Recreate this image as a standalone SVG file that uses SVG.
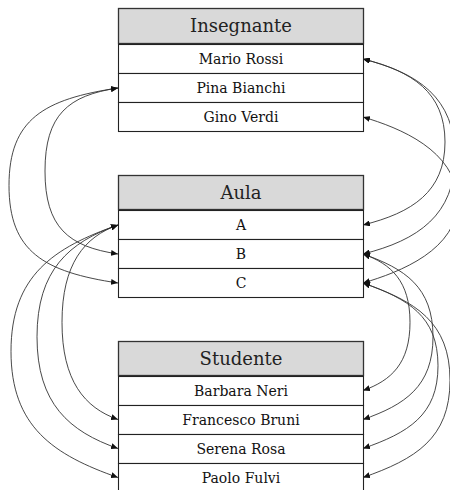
<svg xmlns="http://www.w3.org/2000/svg" width="450" height="490" viewBox="0 0 450 490">
<defs>
<marker id="ah" markerWidth="8" markerHeight="6" refX="7" refY="3" orient="auto-start-reverse" markerUnits="userSpaceOnUse">
<path d="M0,0 L7,3 L0,6 z" fill="#111"/>
</marker>
<style>
.hd{fill:#d9d9d9;stroke:#333;stroke-width:1.3}
.rw{fill:#fff;stroke:#222;stroke-width:1.1}
.ht{font-family:"DejaVu Serif","Liberation Serif",serif;font-size:18px;fill:#222;text-anchor:middle}
.rt{font-family:"DejaVu Serif","Liberation Serif",serif;font-size:14px;fill:#111;text-anchor:middle}
.cn path{fill:none;stroke:#333;stroke-width:0.9;marker-start:url(#ah);marker-end:url(#ah)}
</style>
</defs>
<rect width="450" height="490" fill="#fff"/>
<g id="insegnante">
<rect class="hd" x="118.5" y="8.5" width="245" height="35"/>
<rect class="rw" x="118.5" y="44.5" width="245" height="29"/>
<rect class="rw" x="118.5" y="73.5" width="245" height="29"/>
<rect class="rw" x="118.5" y="102.5" width="245" height="29"/>
<text class="ht" x="241" y="32">Insegnante</text>
<text class="rt" x="241" y="64">Mario Rossi</text>
<text class="rt" x="241" y="93">Pina Bianchi</text>
<text class="rt" x="241" y="122">Gino Verdi</text>
</g>
<g id="aula">
<rect class="hd" x="118.5" y="175.5" width="245" height="34"/>
<rect class="rw" x="118.5" y="210.5" width="245" height="29"/>
<rect class="rw" x="118.5" y="239.5" width="245" height="29"/>
<rect class="rw" x="118.5" y="268.5" width="245" height="29"/>
<text class="ht" x="241" y="198.5">Aula</text>
<text class="rt" x="241" y="230">A</text>
<text class="rt" x="241" y="259">B</text>
<text class="rt" x="241" y="288">C</text>
</g>
<g id="studente">
<rect class="hd" x="118.5" y="341.5" width="245" height="34"/>
<rect class="rw" x="118.5" y="376.5" width="245" height="29"/>
<rect class="rw" x="118.5" y="405.5" width="245" height="29"/>
<rect class="rw" x="118.5" y="434.5" width="245" height="29"/>
<rect class="rw" x="118.5" y="463.5" width="245" height="29"/>
<text class="ht" x="241" y="364.5">Studente</text>
<text class="rt" x="241" y="396">Barbara Neri</text>
<text class="rt" x="241" y="425">Francesco Bruni</text>
<text class="rt" x="241" y="454">Serena Rosa</text>
<text class="rt" x="241" y="483">Paolo Fulvi</text>
</g>
<g id="connectors" class="cn">
<path d="M118,88 C68.4,95.4 45,114.6 45,171 C45,227.4 68.4,246.6 118,254"/>
<path d="M118,88 C43.9,99.1 9,119.2 9,185.5 C9,251.8 43.9,271.9 118,283"/>
<path d="M118,225 C84.4,236.8 62,263.9 62,322.3 C62,380.6 84.4,407.7 118,419.5"/>
<path d="M118,225 C69.4,242 37,269.7 37,336.8 C37,403.8 69.4,431.5 118,448.5"/>
<path d="M118,225 C53.8,247.5 11,275.5 11,351.3 C11,427 53.8,455 118,477.5"/>
<path d="M363,59 C412.2,71.3 445,92.2 445,142 C445,191.8 412.2,212.7 363,225"/>
<path d="M363,59 C418.2,72.8 455,98 455,156.5 C455,215 418.2,240.2 363,254"/>
<path d="M363,117 C400,128 455,150 458,200 C458,250 400,272 363,283"/>
<path d="M363,254 C391.2,263.9 410,281.2 410,322.3 C410,363.3 391.2,380.6 363,390.5"/>
<path d="M363,254 C405,268.7 433,287.1 433,336.8 C433,386.4 405,404.8 363,419.5"/>
<path d="M363,283 C408,298.8 438,316.1 438,365.8 C438,415.4 408,432.8 363,448.5"/>
<path d="M363,283 C415.2,301.3 450,321.9 450,380.3 C450,438.6 415.2,459.2 363,477.5"/>
</g>
</svg>
